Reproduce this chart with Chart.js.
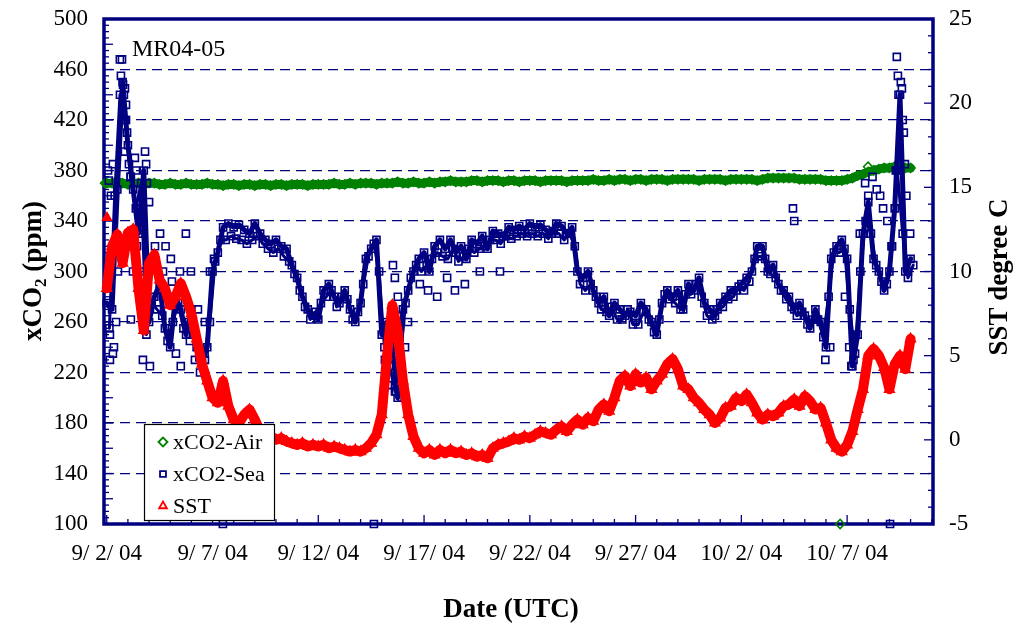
<!DOCTYPE html>
<html><head><meta charset="utf-8">
<script src="https://cdn.jsdelivr.net/npm/chart.js@4.4.0/dist/chart.umd.min.js"></script>
<style>html,body{margin:0;padding:0;background:#fff;}#wrap{width:1017px;height:625px;position:relative;}</style>
</head><body><div id="wrap"><canvas id="c" width="1017" height="625"></canvas></div>
<script>
// ---- data (days since 9/2/04 00:00 UTC) ----
const STEP_DAYS = 0.25;
const xTickDays = [0, 5, 10, 15, 20, 25, 30, 35];
const xTickLabels = ["9/ 2/ 04", "9/ 7/ 04", "9/ 12/ 04", "9/ 17/ 04", "9/ 22/ 04", "9/ 27/ 04", "10/ 2/ 04", "10/ 7/ 04"];
const seriesNames = ["xCO2-Air", "xCO2-Sea", "SST"];

const co2Air = [
  370,370,371,370,369,370,370,369,370,370,
  369,369,370,369,369,370,369,369,369,370,
  369,369,368,369,369,368,369,369,368,369,
  369,368,369,369,368,369,369,369,368,369,
  369,369,369,370,369,369,370,369,370,370,
  370,369,370,370,370,371,370,370,371,370,
  370,371,370,371,371,372,371,371,371,372,
  372,371,372,372,372,371,372,372,371,372,
  372,372,371,372,372,372,372,371,372,372,
  372,372,373,372,372,373,372,373,373,372,
  373,373,372,373,373,373,372,373,373,373,
  373,373,372,373,373,373,373,372,373,373,
  373,373,373,372,373,374,374,374,374,374,
  374,373,373,373,373,373,372,372,372,372,
  373,374,376,377,379,380,381,382,382,383,
  383,382,382
];
// sea readings on the 6-hour grid
const co2Sea = [
  275,270,365,450,400,365,330,380,260,280,
  290,255,240,280,270,250,270,240,228,240,
  300,315,335,338,335,337,333,330,338,330,
  325,322,325,320,318,305,295,280,270,265,
  262,285,290,280,275,285,270,260,275,310,
  318,325,250,260,240,200,270,285,300,310,
  315,300,320,325,318,325,315,320,310,325,
  322,328,318,332,330,328,335,333,336,333,
  338,335,337,333,330,338,336,330,335,300,
  295,300,285,275,280,265,275,270,265,268,
  265,275,270,260,250,275,285,280,285,270,
  290,285,295,275,270,265,275,280,285,285,
  290,295,300,320,320,300,305,290,285,280,
  270,275,265,255,270,260,240,310,320,325,
  310,225,250,330,355,310,300,285,300,350,
  440,300,310
];
// sea readings between grid points (3 h later)
const co2SeaMid = [
  255,360,440,420,375,350,370,250,275,270,
  265,245,260,275,255,260,250,232,235,260,
  308,325,325,328,326,325,322,325,328,322,
  318,315,318,312,308,298,285,272,262,268,
  275,280,285,272,280,278,262,268,290,312,
  322,300,240,225,205,230,275,295,305,300,
  305,310,315,312,310,318,308,312,318,315,
  318,320,325,325,322,328,326,328,330,328,
  330,328,330,326,332,330,325,330,320,290,
  285,290,280,270,268,272,262,262,270,258,
  258,268,262,252,262,282,278,275,270,282,
  282,290,280,265,262,270,272,278,280,288,
  285,292,310,312,310,298,295,285,278,272,
  265,268,258,262,262,248,280,315,315,318,
  270,235,300,340,330,305,292,290,320,380,
  330,295,305
];
const sstC = [
  9.0,11.5,12.2,10.5,12.3,12.5,9.0,6.5,10.5,11.0,
  9.5,9.0,8.0,8.5,9.3,8.5,7.5,6.0,4.5,3.5,
  2.5,2.2,3.5,2.0,1.2,1.0,1.5,1.8,1.2,0.5,
  0.2,0.2,0.0,0.1,-0.1,-0.2,-0.3,-0.2,-0.4,-0.3,
  -0.4,-0.3,-0.5,-0.4,-0.5,-0.6,-0.7,-0.6,-0.7,-0.5,
  -0.2,0.3,1.5,5.0,8.0,6.5,3.5,1.5,0.2,-0.5,
  -0.8,-0.6,-0.9,-0.6,-0.8,-0.6,-0.8,-0.7,-0.9,-0.8,
  -1.0,-0.9,-1.1,-0.5,-0.3,-0.2,-0.1,0.1,0.0,0.2,
  0.1,0.3,0.5,0.4,0.3,0.6,0.8,0.5,0.9,1.2,
  0.9,1.3,1.1,1.8,2.1,1.7,2.5,3.5,3.8,3.2,
  3.9,3.4,3.7,3.0,3.5,3.9,4.5,4.8,4.2,3.2,
  3.0,2.5,2.2,1.8,1.5,1.0,1.3,1.9,2.0,2.5,
  2.3,2.7,2.2,1.6,1.2,1.5,1.4,1.6,2.0,2.1,
  2.4,2.0,2.6,2.3,1.8,1.9,1.0,0.0,-0.5,-0.7,
  -0.3,0.5,1.8,3.0,5.0,5.4,5.0,4.3,3.0,4.5,
  5.0,4.2,6.0
];
// scattered individual readings (day, value)
const seaExtraDays = [0.06,0.10,0.15,0.15,0.20,0.29,0.29,0.34,0.44,0.53,0.62,0.67,0.72,0.77,0.81,0.86,0.86,0.91,0.91,0.96,1.05,1.14,1.14,1.24,1.33,1.38,1.43,1.57,1.57,1.71,1.81,1.86,1.90,2.00,2.04,2.28,2.52,2.66,2.78,3.03,3.08,3.27,3.46,3.50,3.74,3.93,3.98,4.17,4.31,4.41,4.64,4.64,4.88,5.07,5.49,
  12.63,13.15,13.29,13.53,13.62,13.67,13.76,13.86,13.95,14.10,14.24,14.80,15.19,15.62,16.09,16.46,16.93,17.64,18.59,
  32.44,32.50,33.97,34.20,34.90,35.10,35.20,35.30,35.60,35.85,36.00,36.20,36.40,36.56,36.70,36.90,37.03,37.10,37.30,37.35,37.40,37.43,37.54,37.59,37.63,37.68,37.73,37.80,37.88,37.98];
const seaExtraVals = [380,372,250,230,360,385,235,240,260,300,468,455,468,448,440,445,395,432,420,410,385,375,262,300,390,380,320,345,300,230,395,385,370,355,225,320,330,300,320,310,292,235,300,225,330,245,300,230,270,220,230,260,300,310,100,
  100,230,210,305,295,205,280,265,200,240,260,290,285,280,295,285,290,300,300,
  350,340,230,240,280,240,225,230,330,370,360,375,365,360,350,340,100,320,380,470,455,440,450,445,420,410,385,360,300,330];
const airExtraDays = [-0.08, 34.67, 35.99];
const airExtraVals = [370, 100, 383];
const sstExtraDays = [0.01];
const sstExtraVals = [13.2];

// ---- build datasets ----
const toPts = (vals, offset) => vals.map((v, i) => ({x: (i + (offset || 0)) * STEP_DAYS, y: v}));
const toPtsXY = (xs, ys) => xs.map((x, i) => ({x: x, y: ys[i]}));

const NAVY = '#000080', GREEN = '#008000', RED = '#ff0000';
const FONT = '"Liberation Serif", "Times New Roman", serif';
const CLEAR = 'rgba(0,0,0,0)';

const seaPoint = {pointStyle: 'rect', pointRadius: 5, pointBorderWidth: 1.6, pointBorderColor: NAVY, pointBackgroundColor: CLEAR};
const datasets = [
  {label: seriesNames[0], data: toPts(co2Air), yAxisID: 'y', showLine: true, borderColor: GREEN, borderWidth: 9,
   pointStyle: 'rectRot', pointRadius: 4.5, pointBorderWidth: 1.6, pointBorderColor: GREEN, pointBackgroundColor: CLEAR, order: 7},
  {label: seriesNames[0] + ' pts', data: toPtsXY(airExtraDays, airExtraVals), yAxisID: 'y', showLine: false,
   pointStyle: 'rectRot', pointRadius: 4.5, pointBorderWidth: 1.6, pointBorderColor: GREEN, pointBackgroundColor: CLEAR, order: 6},
  Object.assign({label: seriesNames[1], data: toPts(co2Sea), yAxisID: 'y', showLine: true, borderColor: NAVY, borderWidth: 5, order: 5}, seaPoint),
  Object.assign({label: seriesNames[1] + ' mid', data: toPts(co2SeaMid, 0.5), yAxisID: 'y', showLine: true, borderColor: NAVY, borderWidth: 3, order: 4}, seaPoint),
  Object.assign({label: seriesNames[1] + ' pts', data: toPtsXY(seaExtraDays, seaExtraVals), yAxisID: 'y', showLine: false, order: 3}, seaPoint),
  {label: seriesNames[2], data: toPts(sstC), yAxisID: 'y2', showLine: true, borderColor: RED, borderWidth: 10,
   pointStyle: 'triangle', pointRadius: 5.5, pointBorderWidth: 1.6, pointBorderColor: RED, pointBackgroundColor: RED, order: 2},
  {label: seriesNames[2] + ' pts', data: toPtsXY(sstExtraDays, sstExtraVals), yAxisID: 'y2', showLine: false,
   pointStyle: 'triangle', pointRadius: 5, pointBorderWidth: 1.6, pointBorderColor: RED, pointBackgroundColor: RED, order: 1}
];
datasets.forEach(d => { d.clip = false; d.tension = 0; d.borderJoinStyle = 'round'; d.borderCapStyle = 'round'; });

// ---- plugin: frame, inward ticks, titles, annotation, legend ----
const decor = {
  id: 'decor',
  beforeDatasetsDraw(chart) {
    const {ctx, chartArea: a, scales} = chart;
    ctx.save();
    ctx.strokeStyle = NAVY;
    ctx.lineWidth = 1.3;
    const xs = scales.x, ys = scales.y, y2 = scales.y2;
    for (let d = Math.ceil(xs.min); d <= Math.floor(xs.max); d++) {
      const px = xs.getPixelForValue(d);
      const len = xTickDays.includes(d) ? 9 : 5;
      ctx.beginPath(); ctx.moveTo(px, a.bottom); ctx.lineTo(px, a.bottom - len); ctx.stroke();
    }
    for (let v = ys.min; v <= ys.max; v += 5) {
      const py = ys.getPixelForValue(v);
      const len = (v % 20 === 0) ? 9 : 5;
      ctx.beginPath(); ctx.moveTo(a.left, py); ctx.lineTo(a.left + len, py); ctx.stroke();
    }
    for (let v = y2.min; v <= y2.max; v += 1) {
      const py = y2.getPixelForValue(v);
      const len = (v % 5 === 0) ? 9 : 5;
      ctx.beginPath(); ctx.moveTo(a.right, py); ctx.lineTo(a.right - len, py); ctx.stroke();
    }
    ctx.lineWidth = 3.5;
    ctx.strokeRect(a.left, a.top, a.right - a.left, a.bottom - a.top);
    ctx.restore();
  },
  afterDraw(chart) {
    const {ctx, chartArea: a} = chart;
    ctx.save();
    ctx.fillStyle = '#000';
    ctx.font = '24px ' + FONT;
    ctx.textAlign = 'left'; ctx.textBaseline = 'middle';
    ctx.fillText('MR04-05', a.left + 28, a.top + 31);
    ctx.font = 'bold 27px ' + FONT;
    ctx.textAlign = 'center';
    ctx.fillText('Date (UTC)', 511, 610);
    ctx.save();
    ctx.translate(32, 271); ctx.rotate(-Math.PI / 2);
    const p1 = 'xCO', p2 = '2', p3 = ' (ppm)';
    ctx.font = 'bold 27px ' + FONT; const w1 = ctx.measureText(p1).width, w3 = ctx.measureText(p3).width;
    ctx.font = 'bold 17px ' + FONT; const w2 = ctx.measureText(p2).width;
    let x0 = -(w1 + w2 + w3) / 2;
    ctx.textAlign = 'left'; ctx.textBaseline = 'alphabetic';
    ctx.font = 'bold 27px ' + FONT; ctx.fillText(p1, x0, 9);
    ctx.font = 'bold 17px ' + FONT; ctx.fillText(p2, x0 + w1, 14);
    ctx.font = 'bold 27px ' + FONT; ctx.fillText(p3, x0 + w1 + w2, 9);
    ctx.restore();
    ctx.save();
    ctx.translate(1000, 277); ctx.rotate(-Math.PI / 2);
    ctx.font = 'bold 27px ' + FONT; ctx.textAlign = 'center'; ctx.textBaseline = 'middle';
    ctx.fillText('SST degree C', 0, 0);
    ctx.restore();
    const bx = a.left + 40, by = a.bottom - 100, bw = 130, bh = 96;
    ctx.fillStyle = '#fff'; ctx.fillRect(bx, by, bw, bh);
    ctx.strokeStyle = '#000'; ctx.lineWidth = 1.2; ctx.strokeRect(bx + 0.5, by + 0.5, bw, bh);
    const items = [
      {name: seriesNames[0], style: 'rectRot', color: GREEN, r: 4.5},
      {name: seriesNames[1], style: 'rect', color: NAVY, r: 4.2},
      {name: seriesNames[2], style: 'triangle', color: RED, r: 4.5}
    ];
    ctx.font = '22px ' + FONT; ctx.textAlign = 'left'; ctx.textBaseline = 'middle';
    items.forEach((it, k) => {
      const cy = by + 18 + k * 32;
      ctx.strokeStyle = it.color; ctx.fillStyle = CLEAR; ctx.lineWidth = 1.8;
      Chart.helpers.drawPoint(ctx, {pointStyle: it.style, radius: it.r, borderWidth: 1.8, rotation: 0}, bx + 19, cy);
      ctx.fillStyle = '#000';
      ctx.fillText(it.name, bx + 29, cy + 1);
    });
    ctx.restore();
  }
};

new Chart(document.getElementById('c'), {
  type: 'scatter',
  data: {datasets},
  options: {
    responsive: false, animation: false, devicePixelRatio: 1,
    layout: {padding: {top: 19, left: 0, right: 0, bottom: 0}},
    plugins: {legend: {display: false}, tooltip: {enabled: false}},
    scales: {
      x: {
        type: 'linear', position: 'bottom', min: -0.13, max: 39.06,
        afterBuildTicks: (s) => { s.ticks = xTickDays.map(v => ({value: v})); },
        afterFit: (s) => { s.height = 101; s.paddingLeft = 0; s.paddingRight = 0; },
        ticks: {autoSkip: false, maxRotation: 0, padding: 16, color: '#000', font: {family: FONT, size: 23},
          callback: (v) => { const k = xTickDays.indexOf(v); return k >= 0 ? xTickLabels[k] : ''; }},
        grid: {display: false, drawTicks: false},
        border: {display: false}
      },
      y: {
        position: 'left', min: 100, max: 500,
        afterFit: (s) => { s.width = 104; s.paddingTop = 0; s.paddingBottom = 0; },
        ticks: {stepSize: 20, padding: 16, color: '#000', font: {family: FONT, size: 23}},
        grid: {drawTicks: false, lineWidth: 1.2,
          color: (c) => (c.tick && (c.tick.value === 100 || c.tick.value === 500)) ? CLEAR : NAVY},
        border: {display: false, dash: [10, 6]}
      },
      y2: {
        position: 'right', min: -5, max: 25,
        afterFit: (s) => { s.width = 84; s.paddingTop = 0; s.paddingBottom = 0; },
        ticks: {stepSize: 5, padding: 16, color: '#000', font: {family: FONT, size: 23}},
        grid: {display: false, drawTicks: false},
        border: {display: false}
      }
    }
  },
  plugins: [decor]
});
</script></body></html>
